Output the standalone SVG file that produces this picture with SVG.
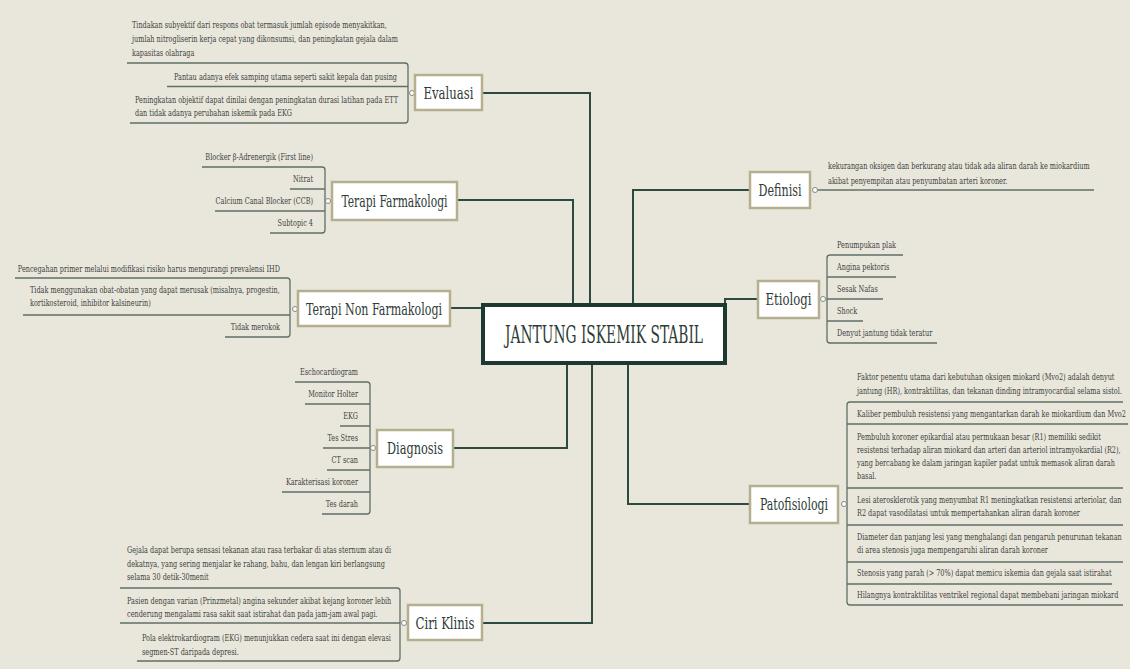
<svg xmlns="http://www.w3.org/2000/svg" width="1130" height="669" viewBox="0 0 1130 669">
  <style>
    .bg { fill: #e9e7dc; }
    .box { fill: #ffffff; stroke: #b5af90; stroke-width: 2.5; }
    .core { fill: #ffffff; stroke: #1d3a31; stroke-width: 4; }
    .mt { font-family: "DejaVu Serif Condensed", "DejaVu Serif", serif; font-size: 17.5px; fill: #2e3b37; text-anchor: middle; }
    .ct { font-family: "DejaVu Serif Condensed", "DejaVu Serif", serif; font-size: 24px; fill: #2e3b37; text-anchor: middle; }
    .s { font-family: "DejaVu Serif", serif; font-size: 9.8px; fill: #404240; }
    .e { text-anchor: end; }
    .ul { fill: none; stroke: #5f6f67; stroke-width: 1.3; }
    .conn { fill: none; stroke: #2b4a40; stroke-width: 2; }
    .dot { fill: #ffffff; stroke: #7d8c84; stroke-width: 1; }
  </style>

  <rect class="bg" x="0" y="0" width="1130" height="669"/>

  <!-- connectors from the central topic to each main topic -->
  <g id="connectors">
    <path class="conn" d="M482,93 H590 V305"/>
    <path class="conn" d="M457,200 H573 V305"/>
    <path class="conn" d="M450,308 H483"/>
    <path class="conn" d="M453,448 H567 V363"/>
    <path class="conn" d="M482,623 H592 V363"/>
    <path class="conn" d="M633,305 V190 H750"/>
    <path class="conn" d="M725,305 V299 H758"/>
    <path class="conn" d="M628,363 V504 H750"/>
  </g>

  <!-- central topic -->
  <g id="center">
    <rect class="core" x="483" y="305" width="242" height="58"/>
    <text class="ct" x="604" y="343" textLength="198" lengthAdjust="spacingAndGlyphs">JANTUNG ISKEMIK STABIL</text>
  </g>

  <!-- Evaluasi -->
  <g id="evaluasi">
    <path class="ul" d="M127,63 H405 Q408,63 408,66 V120 Q408,123 405,123 H130 M167,86.5 H408"/>
    <circle class="dot" cx="412" cy="93" r="2.5"/>
    <rect class="box" x="415" y="75" width="67" height="35"/>
    <text class="mt" x="448.5" y="99" textLength="50" lengthAdjust="spacingAndGlyphs">Evaluasi</text>
    <text class="s" transform="matrix(0.665 0 0 1 132 28)">Tindakan subyektif dari respons obat termasuk jumlah episode menyakitkan,</text>
    <text class="s" transform="matrix(0.665 0 0 1 132 42)">jumlah nitrogliserin kerja cepat yang dikonsumsi, dan peningkatan gejala dalam</text>
    <text class="s" transform="matrix(0.665 0 0 1 132 56)">kapasitas olahraga</text>
    <text class="s e" transform="matrix(0.665 0 0 1 397 80)">Pantau adanya efek samping utama seperti sakit kepala dan pusing</text>
    <text class="s" transform="matrix(0.665 0 0 1 135 103)">Peningkatan objektif dapat dinilai dengan peningkatan durasi latihan pada ETT</text>
    <text class="s" transform="matrix(0.665 0 0 1 135 116)">dan tidak adanya perubahan iskemik pada EKG</text>
  </g>

  <!-- Terapi Farmakologi -->
  <g id="terapi-farmakologi">
    <path class="ul" d="M202,167 H322 Q325,167 325,170 V230 Q325,233 322,233 H270 M290,189 H325 M215,211 H325"/>
    <circle class="dot" cx="328" cy="201" r="2.5"/>
    <rect class="box" x="332" y="182" width="125" height="38"/>
    <text class="mt" x="394.5" y="207" textLength="106" lengthAdjust="spacingAndGlyphs">Terapi Farmakologi</text>
    <text class="s e" transform="matrix(0.665 0 0 1 313 160)">Blocker β-Adrenergik (First line)</text>
    <text class="s e" transform="matrix(0.665 0 0 1 313 182)">Nitrat</text>
    <text class="s e" transform="matrix(0.665 0 0 1 313 204)">Calcium Canal Blocker (CCB)</text>
    <text class="s e" transform="matrix(0.665 0 0 1 313 226)">Subtopic 4</text>
  </g>

  <!-- Terapi Non Farmakologi -->
  <g id="terapi-non-farmakologi">
    <path class="ul" d="M15,278 H287 Q290,278 290,281 V334 Q290,337 287,337 H225 M23,315 H290"/>
    <circle class="dot" cx="295" cy="309" r="2.5"/>
    <rect class="box" x="298" y="291" width="152" height="35"/>
    <text class="mt" x="374" y="315" textLength="136" lengthAdjust="spacingAndGlyphs">Terapi Non Farmakologi</text>
    <text class="s e" transform="matrix(0.665 0 0 1 280 272)">Pencegahan primer melalui modifikasi risiko harus mengurangi prevalensi IHD</text>
    <text class="s" transform="matrix(0.665 0 0 1 30 293)">Tidak menggunakan  obat-obatan yang dapat merusak (misalnya, progestin,</text>
    <text class="s" transform="matrix(0.665 0 0 1 30 306)">kortikosteroid, inhibitor kalsineurin)</text>
    <text class="s e" transform="matrix(0.665 0 0 1 280 330)">Tidak merokok</text>
  </g>

  <!-- Diagnosis -->
  <g id="diagnosis">
    <path class="ul" d="M295,382 H367 Q370,382 370,385 V511 Q370,514 367,514 H322 M305,404 H370 M340,426 H370 M323,448 H370 M327,470 H370 M282,492 H370"/>
    <circle class="dot" cx="373" cy="448" r="2.5"/>
    <rect class="box" x="377" y="430" width="76" height="37"/>
    <text class="mt" x="415" y="454" textLength="56" lengthAdjust="spacingAndGlyphs">Diagnosis</text>
    <text class="s e" transform="matrix(0.665 0 0 1 358 375)">Eschocardiogram</text>
    <text class="s e" transform="matrix(0.665 0 0 1 358 397)">Monitor Holter</text>
    <text class="s e" transform="matrix(0.665 0 0 1 358 419)">EKG</text>
    <text class="s e" transform="matrix(0.665 0 0 1 358 441)">Tes Stres</text>
    <text class="s e" transform="matrix(0.665 0 0 1 358 463)">CT scan</text>
    <text class="s e" transform="matrix(0.665 0 0 1 358 485)">Karakterisasi koroner</text>
    <text class="s e" transform="matrix(0.665 0 0 1 358 507)">Tes darah</text>
  </g>

  <!-- Ciri Klinis -->
  <g id="ciri-klinis">
    <path class="ul" d="M120,588 H397 Q400,588 400,591 V658 Q400,661 397,661 H137 M120,623 H400"/>
    <circle class="dot" cx="404" cy="623" r="2.5"/>
    <rect class="box" x="408" y="605" width="74" height="35"/>
    <text class="mt" x="445" y="629" textLength="59" lengthAdjust="spacingAndGlyphs">Ciri Klinis</text>
    <text class="s" transform="matrix(0.665 0 0 1 127 553)">Gejala dapat berupa sensasi tekanan atau rasa terbakar di atas sternum atau di</text>
    <text class="s" transform="matrix(0.665 0 0 1 127 567)">dekatnya, yang sering menjalar ke rahang, bahu, dan lengan kiri berlangsung</text>
    <text class="s" transform="matrix(0.665 0 0 1 127 580)">selama 30 detik-30menit</text>
    <text class="s" transform="matrix(0.665 0 0 1 127 604)">Pasien dengan varian (Prinzmetal) angina sekunder akibat kejang koroner lebih</text>
    <text class="s" transform="matrix(0.665 0 0 1 127 617)">cenderung mengalami rasa sakit saat istirahat dan pada jam-jam awal pagi.</text>
    <text class="s" transform="matrix(0.665 0 0 1 142 641)">Pola elektrokardiogram (EKG) menunjukkan cedera saat ini dengan elevasi</text>
    <text class="s" transform="matrix(0.665 0 0 1 142 655)">segmen-ST daripada depresi.</text>
  </g>

  <!-- Definisi -->
  <g id="definisi">
    <path class="ul" d="M817,190 H1094"/>
    <circle class="dot" cx="815" cy="190" r="2.5"/>
    <rect class="box" x="750" y="172" width="60" height="36"/>
    <text class="mt" x="780" y="196" textLength="43" lengthAdjust="spacingAndGlyphs">Definisi</text>
    <text class="s" transform="matrix(0.665 0 0 1 828 169)">kekurangan oksigen dan berkurang atau tidak ada aliran darah ke miokardium</text>
    <text class="s" transform="matrix(0.665 0 0 1 828 184)">akibat penyempitan atau penyumbatan arteri koroner.</text>
  </g>

  <!-- Etiologi -->
  <g id="etiologi">
    <path class="ul" d="M903,255 H830 Q827,255 827,258 V340 Q827,343 830,343 H937 M827,277 H896 M827,299 H883 M827,321 H863"/>
    <circle class="dot" cx="823" cy="299" r="2.5"/>
    <rect class="box" x="758" y="281" width="61" height="37"/>
    <text class="mt" x="788.5" y="305" textLength="46" lengthAdjust="spacingAndGlyphs">Etiologi</text>
    <text class="s" transform="matrix(0.665 0 0 1 837 248)">Penumpukan plak</text>
    <text class="s" transform="matrix(0.665 0 0 1 837 270)">Angina pektoris</text>
    <text class="s" transform="matrix(0.665 0 0 1 837 292)">Sesak Nafas</text>
    <text class="s" transform="matrix(0.665 0 0 1 837 314)">Shock</text>
    <text class="s" transform="matrix(0.665 0 0 1 837 336)">Denyut jantung tidak teratur</text>
  </g>

  <!-- Patofisiologi -->
  <g id="patofisiologi">
    <path class="ul" d="M1123,402 H850 Q847,402 847,405 V602 Q847,605 850,605 H1123 M847,424 H1128 M847,488 H1123 M847,525 H1123 M847,562 H1123 M847,584 H1112"/>
    <circle class="dot" cx="844" cy="504" r="2.5"/>
    <rect class="box" x="750" y="486" width="88" height="37"/>
    <text class="mt" x="794" y="510" textLength="68" lengthAdjust="spacingAndGlyphs">Patofisiologi</text>
    <text class="s" transform="matrix(0.665 0 0 1 857 380)">Faktor penentu utama dari kebutuhan oksigen miokard (Mvo2) adalah denyut</text>
    <text class="s" transform="matrix(0.665 0 0 1 857 394)">jantung (HR), kontraktilitas, dan tekanan dinding intramyocardial selama sistol.</text>
    <text class="s" transform="matrix(0.665 0 0 1 857 417)">Kaliber pembuluh resistensi yang mengantarkan darah ke miokardium dan Mvo2</text>
    <text class="s" transform="matrix(0.665 0 0 1 857 440)">Pembuluh koroner epikardial atau permukaan besar (R1) memiliki sedikit</text>
    <text class="s" transform="matrix(0.665 0 0 1 857 453)">resistensi terhadap aliran miokard dan arteri dan arteriol intramyokardial (R2),</text>
    <text class="s" transform="matrix(0.665 0 0 1 857 466)">yang bercabang ke dalam jaringan kapiler padat untuk memasok aliran darah</text>
    <text class="s" transform="matrix(0.665 0 0 1 857 479)">basal.</text>
    <text class="s" transform="matrix(0.665 0 0 1 857 503)">Lesi aterosklerotik yang menyumbat R1 meningkatkan resistensi arteriolar, dan</text>
    <text class="s" transform="matrix(0.665 0 0 1 857 516)">R2 dapat vasodilatasi untuk mempertahankan aliran darah koroner</text>
    <text class="s" transform="matrix(0.665 0 0 1 857 540)">Diameter dan panjang lesi yang menghalangi dan pengaruh penurunan tekanan</text>
    <text class="s" transform="matrix(0.665 0 0 1 857 553)">di area stenosis juga mempengaruhi aliran darah koroner</text>
    <text class="s" transform="matrix(0.665 0 0 1 857 576)">Stenosis yang parah (&gt; 70%) dapat memicu iskemia dan gejala saat istirahat</text>
    <text class="s" transform="matrix(0.665 0 0 1 857 598)">Hilangnya kontraktilitas ventrikel regional dapat membebani jaringan miokard</text>
  </g>
</svg>
